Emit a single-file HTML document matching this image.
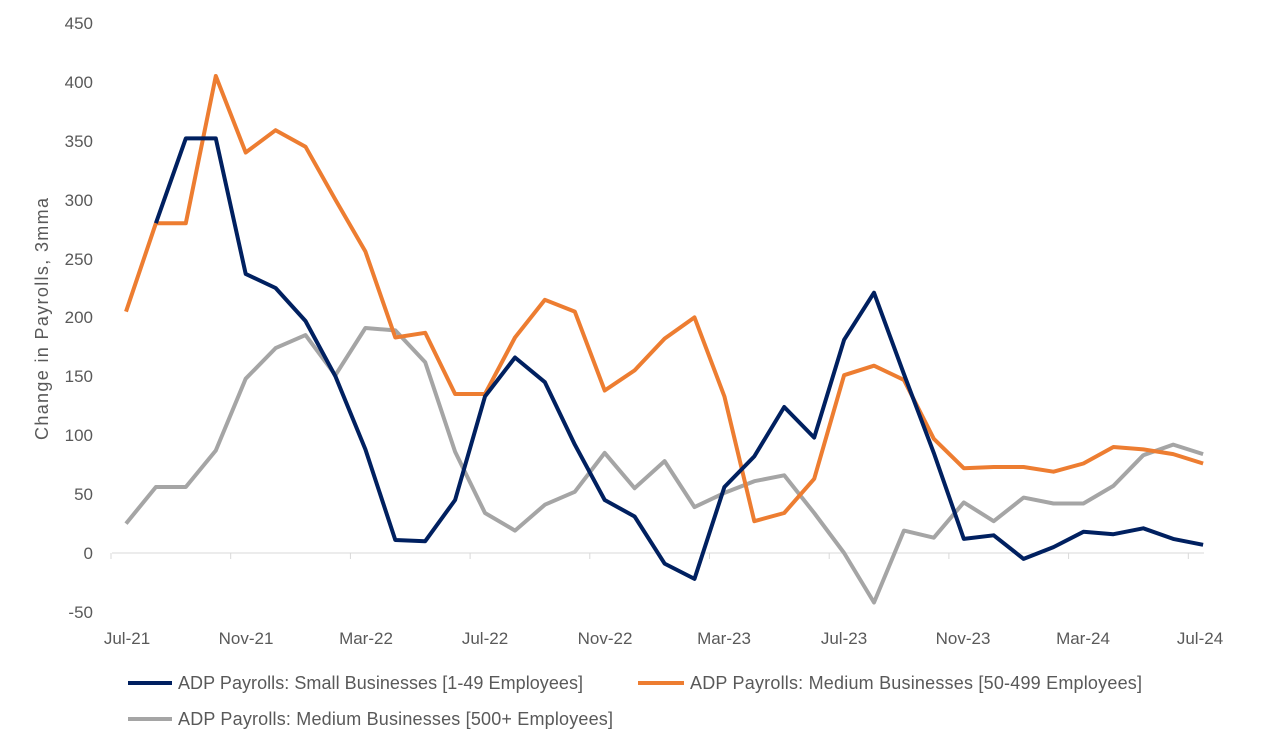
<!DOCTYPE html>
<html><head><meta charset="utf-8"><style>
body{margin:0;background:#fff;}
svg text{font-family:"Liberation Sans",sans-serif;fill:#595959;}
</style></head><body>
<svg id="s" width="1270" height="751" xmlns="http://www.w3.org/2000/svg">
<g font-size="17" text-anchor="end">
<text x="93" y="29">450</text><text x="93" y="88">400</text><text x="93" y="147">350</text>
<text x="93" y="206">300</text><text x="93" y="265">250</text><text x="93" y="323">200</text>
<text x="93" y="382">150</text><text x="93" y="441">100</text><text x="93" y="500">50</text>
<text x="93" y="559">0</text><text x="93" y="618">-50</text>
</g>
<text transform="translate(48,319) rotate(-90)" font-size="18" text-anchor="middle" textLength="242">Change in Payrolls, 3mma</text>
<line x1="112" y1="553" x2="1204" y2="553" stroke="#d9d9d9" stroke-width="1"/>
<g id="ticks" stroke="#d9d9d9"></g>
<g font-size="17" text-anchor="middle">
<text x="127" y="644">Jul-21</text><text x="246" y="644">Nov-21</text><text x="366" y="644">Mar-22</text>
<text x="485" y="644">Jul-22</text><text x="605" y="644">Nov-22</text><text x="724" y="644">Mar-23</text>
<text x="844" y="644">Jul-23</text><text x="963" y="644">Nov-23</text><text x="1083" y="644">Mar-24</text>
<text x="1200" y="644">Jul-24</text>
</g>
<polyline id="g" fill="none" stroke="#a5a5a5" stroke-width="4" stroke-linejoin="round"/>
<polyline id="o" fill="none" stroke="#ed7d31" stroke-width="4" stroke-linejoin="round"/>
<polyline id="n" fill="none" stroke="#002060" stroke-width="4" stroke-linejoin="round"/>
<line x1="128" y1="683" x2="172" y2="683" stroke="#002060" stroke-width="4"/>
<text x="178" y="689" font-size="18" textLength="405">ADP Payrolls: Small Businesses [1-49 Employees]</text>
<line x1="638" y1="683" x2="684" y2="683" stroke="#ed7d31" stroke-width="4"/>
<text x="690" y="689" font-size="18" textLength="452">ADP Payrolls: Medium Businesses [50-499 Employees]</text>
<line x1="128" y1="719" x2="172" y2="719" stroke="#a5a5a5" stroke-width="4"/>
<text x="178" y="725" font-size="18" textLength="435">ADP Payrolls: Medium Businesses [500+ Employees]</text>
</svg>
<script>
var n=[205,280,352,352,237,225,197,150,88,11,10,45,133,166,145,92,45,31,-9,-22,56,82,124,98,181,221,152,85,12,15,-5,5,18,16,21,12,7];
var o=[205,280,280,405,340,359,345,300,256,183,187,135,135,183,215,205,138,155,182,200,133,27,34,63,151,159,147,97,72,73,73,69,76,90,88,84,76];
var g=[25,56,56,87,148,174,185,151,191,189,162,86,34,19,41,52,85,55,78,39,51,61,66,34,0,-42,19,13,43,27,47,42,42,57,83,92,84];
function p(a,s){return a.map(function(v,i){return (126+29.92*i).toFixed(1)+","+(553-v*1.1778).toFixed(1)}).slice(s||0).join(" ")}
document.getElementById("n").setAttribute("points",p(n,1));
document.getElementById("o").setAttribute("points",p(o));
document.getElementById("g").setAttribute("points",p(g));
var t="";for(var i=0;i<10;i++){var x=(111+119.7*i).toFixed(1);t+='<line x1="'+x+'" y1="553" x2="'+x+'" y2="559"/>';}
document.getElementById("ticks").innerHTML=t;
</script>
</body></html>
